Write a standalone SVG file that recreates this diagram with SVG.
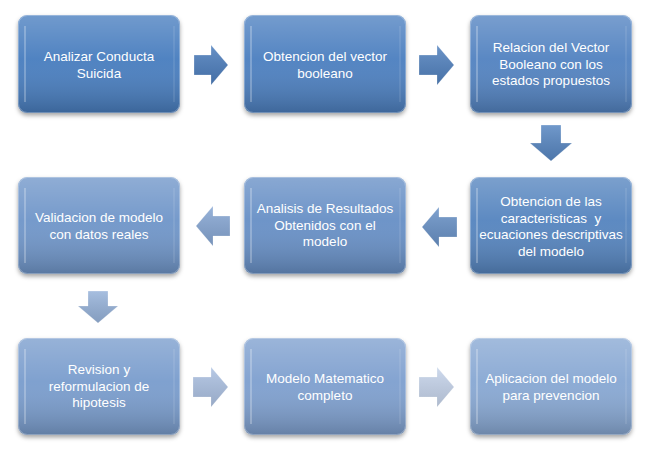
<svg xmlns="http://www.w3.org/2000/svg" width="651" height="462" viewBox="0 0 651 462">
<defs>
<linearGradient id="shade" x1="0" y1="0" x2="0" y2="1">
<stop offset="0" stop-color="#ffffff" stop-opacity="0.22"/>
<stop offset="0.45" stop-color="#ffffff" stop-opacity="0.04"/>
<stop offset="1" stop-color="#000000" stop-opacity="0.2"/>
</linearGradient>
<linearGradient id="ashade" x1="0" y1="0" x2="0" y2="1">
<stop offset="0" stop-color="#ffffff" stop-opacity="0.15"/>
<stop offset="1" stop-color="#000000" stop-opacity="0.12"/>
</linearGradient>
<filter id="sh" x="-10%" y="-10%" width="120%" height="130%">
<feDropShadow dx="0" dy="2.5" stdDeviation="2.2" flood-color="#000" flood-opacity="0.35"/>
</filter>
</defs>
<style>
.base{stroke:none}
.ov{fill:url(#shade)}
.rim{fill:none;stroke:#ffffff;stroke-opacity:0.28;stroke-width:1}
.bev{stroke:#ffffff;stroke-opacity:0.25;stroke-width:2;fill:none}
.bevr{stroke:#ffffff;stroke-opacity:0.12;stroke-width:1.5;fill:none}
.lbl{font-family:"Liberation Sans",Arial,sans-serif;font-size:13.5px;fill:#ffffff;text-anchor:middle;white-space:pre}
.arr{stroke:#ffffff;stroke-opacity:0.35;stroke-width:0.8}
.aov{fill:url(#ashade)}
</style>
<rect width="651" height="462" fill="#ffffff"/>

<g id="connectors">
<polygon class="arr" fill="#4d7ebd" points="194,55 211,55 211,45 228,65 211,85 211,75 194,75"/>
<polygon class="aov" points="194,55 211,55 211,45 228,65 211,85 211,75 194,75"/>
<polygon class="arr" fill="#5282bf" points="419,55 437,55 437,45 454,65 437,85 437,75 419,75"/>
<polygon class="aov" points="419,55 437,55 437,45 454,65 437,85 437,75 419,75"/>
<polygon class="arr" fill="#5887c2" points="541,125 561,125 561,143 572,143 551,161 530,143 541,143"/>
<polygon class="aov" points="541,125 561,125 561,143 572,143 551,161 530,143 541,143"/>
<polygon class="arr" fill="#6992c7" points="457,217 439,217 439,207 422,227 439,247 439,237 457,237"/>
<polygon class="aov" points="457,217 439,217 439,207 422,227 439,247 439,237 457,237"/>
<polygon class="arr" fill="#87a7d4" points="230,216 213,216 213,206 196,226 213,246 213,236 230,236"/>
<polygon class="aov" points="230,216 213,216 213,206 196,226 213,246 213,236 230,236"/>
<polygon class="arr" fill="#97b3da" points="88,291 108,291 108,306 118,306 98,323 78,306 88,306"/>
<polygon class="aov" points="88,291 108,291 108,306 118,306 98,323 78,306 88,306"/>
<polygon class="arr" fill="#acc1e2" points="193,377 211,377 211,367 228,387 211,407 211,397 193,397"/>
<polygon class="aov" points="193,377 211,377 211,367 228,387 211,407 211,397 193,397"/>
<polygon class="arr" fill="#c6d4eb" points="419,377 437,377 437,367 454,387 437,407 437,397 419,397"/>
<polygon class="aov" points="419,377 437,377 437,367 454,387 437,407 437,397 419,397"/>
</g>

<g id="n1">
<rect class="base" x="18" y="15" width="162" height="98" rx="9" fill="#4a7ebf" filter="url(#sh)"/>
<rect class="ov" x="18" y="15" width="162" height="98" rx="9"/>
<rect class="rim" x="18.5" y="15.5" width="161" height="97" rx="9"/>
<line class="bev" x1="25" y1="26" x2="25" y2="102"/>
<line class="bevr" x1="174" y1="26" x2="174" y2="102"/>
<text class="lbl" x="99" y="60.5">Analizar Conducta</text>
<text class="lbl" x="99" y="77.5">Suicida</text>
</g>

<g id="n2">
<rect class="base" x="244" y="15" width="162" height="98" rx="9" fill="#4d80c0" filter="url(#sh)"/>
<rect class="ov" x="244" y="15" width="162" height="98" rx="9"/>
<rect class="rim" x="244.5" y="15.5" width="161" height="97" rx="9"/>
<line class="bev" x1="251" y1="26" x2="251" y2="102"/>
<line class="bevr" x1="400" y1="26" x2="400" y2="102"/>
<text class="lbl" x="325" y="60.5">Obtencion del vector</text>
<text class="lbl" x="325" y="77.5">booleano</text>
</g>

<g id="n3">
<rect class="base" x="470" y="15" width="162" height="98" rx="9" fill="#5283c1" filter="url(#sh)"/>
<rect class="ov" x="470" y="15" width="162" height="98" rx="9"/>
<rect class="rim" x="470.5" y="15.5" width="161" height="97" rx="9"/>
<line class="bev" x1="477" y1="26" x2="477" y2="102"/>
<line class="bevr" x1="626" y1="26" x2="626" y2="102"/>
<text class="lbl" x="551" y="52">Relacion del Vector</text>
<text class="lbl" x="551" y="68.5">Booleano con los</text>
<text class="lbl" x="551" y="85">estados propuestos</text>
</g>

<g id="n4">
<rect class="base" x="470" y="177" width="162" height="97" rx="9" fill="#5685bf" filter="url(#sh)"/>
<rect class="ov" x="470" y="177" width="162" height="97" rx="9"/>
<rect class="rim" x="470.5" y="177.5" width="161" height="96" rx="9"/>
<line class="bev" x1="477" y1="188" x2="477" y2="263"/>
<line class="bevr" x1="626" y1="188" x2="626" y2="263"/>
<text class="lbl" x="551" y="206">Obtencion de las</text>
<text class="lbl" x="551" y="222.7" xml:space="preserve">caracteristicas  y</text>
<text class="lbl" x="551" y="239.4">ecuaciones descriptivas</text>
<text class="lbl" x="551" y="256">del modelo</text>
</g>

<g id="n5">
<rect class="base" x="244" y="177" width="162" height="97" rx="9" fill="#6790c6" filter="url(#sh)"/>
<rect class="ov" x="244" y="177" width="162" height="97" rx="9"/>
<rect class="rim" x="244.5" y="177.5" width="161" height="96" rx="9"/>
<line class="bev" x1="251" y1="188" x2="251" y2="263"/>
<line class="bevr" x1="400" y1="188" x2="400" y2="263"/>
<text class="lbl" x="325" y="213">Analisis de Resultados</text>
<text class="lbl" x="325" y="229.5">Obtenidos con el</text>
<text class="lbl" x="325" y="246">modelo</text>
</g>

<g id="n6">
<rect class="base" x="18" y="177" width="162" height="97" rx="9" fill="#6f96c9" filter="url(#sh)"/>
<rect class="ov" x="18" y="177" width="162" height="97" rx="9"/>
<rect class="rim" x="18.5" y="177.5" width="161" height="96" rx="9"/>
<line class="bev" x1="25" y1="188" x2="25" y2="263"/>
<line class="bevr" x1="174" y1="188" x2="174" y2="263"/>
<text class="lbl" x="99" y="222">Validacion de modelo</text>
<text class="lbl" x="99" y="238.5">con datos reales</text>
</g>

<g id="n7">
<rect class="base" x="18" y="338" width="162" height="97" rx="9" fill="#7a9dcd" filter="url(#sh)"/>
<rect class="ov" x="18" y="338" width="162" height="97" rx="9"/>
<rect class="rim" x="18.5" y="338.5" width="161" height="96" rx="9"/>
<line class="bev" x1="25" y1="349" x2="25" y2="424"/>
<line class="bevr" x1="174" y1="349" x2="174" y2="424"/>
<text class="lbl" x="99" y="374">Revision y</text>
<text class="lbl" x="99" y="390.5">reformulacion de</text>
<text class="lbl" x="99" y="407">hipotesis</text>
</g>

<g id="n8">
<rect class="base" x="244" y="338" width="162" height="97" rx="9" fill="#7fa0cf" filter="url(#sh)"/>
<rect class="ov" x="244" y="338" width="162" height="97" rx="9"/>
<rect class="rim" x="244.5" y="338.5" width="161" height="96" rx="9"/>
<line class="bev" x1="251" y1="349" x2="251" y2="424"/>
<line class="bevr" x1="400" y1="349" x2="400" y2="424"/>
<text class="lbl" x="325" y="383">Modelo Matematico</text>
<text class="lbl" x="325" y="399.5">completo</text>
</g>

<g id="n9">
<rect class="base" x="470" y="338" width="162" height="97" rx="9" fill="#88a8d3" filter="url(#sh)"/>
<rect class="ov" x="470" y="338" width="162" height="97" rx="9"/>
<rect class="rim" x="470.5" y="338.5" width="161" height="96" rx="9"/>
<line class="bev" x1="477" y1="349" x2="477" y2="424"/>
<line class="bevr" x1="626" y1="349" x2="626" y2="424"/>
<text class="lbl" x="551" y="383">Aplicacion del modelo</text>
<text class="lbl" x="551" y="399.5">para prevencion</text>
</g>
</svg>
